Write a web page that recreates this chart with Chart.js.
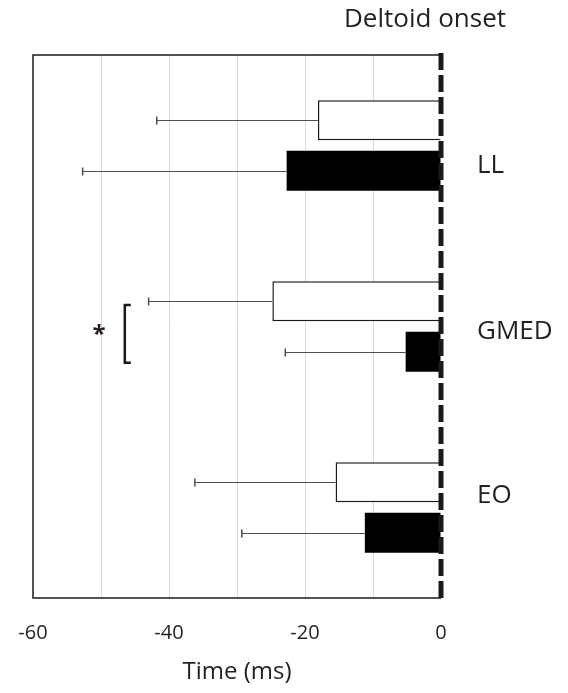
<!DOCTYPE html>
<html>
<head>
<meta charset="utf-8">
<script src="https://cdn.jsdelivr.net/npm/chart.js@4/dist/chart.umd.min.js"></script>
<style>
  html, body { margin: 0; padding: 0; background: #fff; }
  #wrap { width: 568px; height: 693px; }
</style>
</head>
<body>
<div id="wrap"><canvas id="c" width="568" height="693"></canvas></div>
<script>
// ---- data ----
const categories = ['LL', 'GMED', 'EO'];
const whiteMeans = [-18.1, -24.8, -15.5];
const whiteSD = [23.7, 18.2, 20.7];
const blackMeans = [-22.7, -5.2, -11.2];
const blackSD = [30.0, 17.7, 18.1];
const xTickValues = [-60, -40, -20, 0];
const xTitle = 'Time (ms)';
const topLabel = 'Deltoid onset';

// annotation placement (not data)
const labelShift = [0.11, 0.03, -0.064];   // category-unit nudges of the right-hand labels
const sigCategory = 1;                       // bracket + asterisk at GMED
const TEXT = '#231f20';
const FONT = '"Open Sans", sans-serif';

const sdByDataset = [whiteSD, blackSD];

const decorPlugin = {
  id: 'decor',
  afterDatasetsDraw(chart) {
    const ctx = chart.ctx;
    const xs = chart.scales.x, ys = chart.scales.y;
    const a = chart.chartArea;

    // error bars (drawn leftward from bar end)
    chart.data.datasets.forEach((ds, di) => {
      const meta = chart.getDatasetMeta(di);
      meta.data.forEach((bar, i) => {
        const v = ds.data[i];
        const x0 = xs.getPixelForValue(v);
        const x1 = xs.getPixelForValue(v - sdByDataset[di][i]);
        const y = Math.round(bar.y) + 0.5;
        ctx.save();
        ctx.strokeStyle = '#4d4d4d';
        ctx.lineWidth = 1;
        ctx.beginPath();
        ctx.moveTo(x0, y); ctx.lineTo(x1, y);
        ctx.stroke();
        ctx.lineWidth = 1.5;
        ctx.beginPath();
        ctx.moveTo(x1, y - 4); ctx.lineTo(x1, y + 4);
        ctx.stroke();
        ctx.restore();
      });
    });

    // plot box (left, top, bottom)
    ctx.save();
    ctx.strokeStyle = '#1a1a1a';
    ctx.lineWidth = 1.5;
    ctx.beginPath();
    ctx.moveTo(a.right, a.top); ctx.lineTo(a.left, a.top);
    ctx.lineTo(a.left, a.bottom); ctx.lineTo(a.right, a.bottom);
    ctx.stroke();
    ctx.restore();

    // dashed zero line
    const xz = xs.getPixelForValue(0);
    ctx.save();
    ctx.strokeStyle = '#1a1a1a';
    ctx.lineWidth = 5;
    ctx.setLineDash([17, 5]);
    ctx.beginPath();
    ctx.moveTo(xz, a.top - 2); ctx.lineTo(xz, a.bottom + 1);
    ctx.stroke();
    ctx.restore();

    // bracket + asterisk
    const bx = xs.getPixelForValue(-46.5);
    const by0 = ys.getPixelForValue(sigCategory - 0.119);
    const by1 = ys.getPixelForValue(sigCategory + 0.2);
    ctx.save();
    ctx.strokeStyle = '#1a1a1a';
    ctx.lineWidth = 2.5;
    ctx.beginPath();
    ctx.moveTo(bx + 6, by0); ctx.lineTo(bx, by0); ctx.lineTo(bx, by1); ctx.lineTo(bx + 6, by1);
    ctx.stroke();
    ctx.fillStyle = TEXT;
    ctx.font = 'bold 24px ' + FONT;
    ctx.textAlign = 'center';
    ctx.textBaseline = 'alphabetic';
    ctx.fillText('*', xs.getPixelForValue(-50.3), ys.getPixelForValue(sigCategory + 0.03) + 10);
    ctx.restore();

    // right-hand category labels
    ctx.save();
    ctx.fillStyle = TEXT;
    ctx.font = '26px ' + FONT;
    ctx.textAlign = 'left';
    ctx.textBaseline = 'middle';
    categories.forEach((c, i) => {
      ctx.fillText(c, a.right + 36, ys.getPixelForValue(i + labelShift[i]));
    });
    // top label
    ctx.textAlign = 'center';
    ctx.textBaseline = 'alphabetic';
    ctx.fillText(topLabel, a.right - 16, 27);
    ctx.restore();
  }
};

new Chart(document.getElementById('c'), {
  type: 'bar',
  data: {
    labels: categories,
    datasets: [
      { data: whiteMeans, backgroundColor: '#ffffff', borderColor: '#1a1a1a', borderWidth: 1.5 },
      { data: blackMeans, backgroundColor: '#000000', borderColor: '#000000', borderWidth: 0 }
    ]
  },
  options: {
    indexAxis: 'y',
    responsive: false,
    animation: false,
    events: [],
    categoryPercentage: 0.56,
    barPercentage: 0.79,
    layout: { padding: { left: 33, right: 127, top: 55, bottom: 0 } },
    plugins: { legend: { display: false }, tooltip: { enabled: false }, title: { display: false } },
    scales: {
      y: { display: false, offset: true },
      x: {
        type: 'linear',
        min: -60, max: 0,
        afterFit(scale) { scale.height = 95; scale.paddingLeft = 0; scale.paddingRight = 0; },
        border: { display: false },
        grid: {
          drawTicks: false,
          color(ctx) {
            const v = ctx.tick && ctx.tick.value;
            return (v === -60 || v === 0) ? 'rgba(0,0,0,0)' : '#d9d9d9';
          },
          lineWidth: 1
        },
        ticks: {
          stepSize: 10,
          padding: 23,
          maxRotation: 0,
          color: TEXT,
          font: { family: FONT, size: 20 },
          callback(v) { return xTickValues.includes(v) ? String(v) : ''; }
        },
        title: {
          display: true,
          text: xTitle,
          color: TEXT,
          font: { family: FONT, size: 24 },
          padding: { top: 0, bottom: 6 }
        }
      }
    }
  },
  plugins: [decorPlugin]
});
</script>
</body>
</html>
